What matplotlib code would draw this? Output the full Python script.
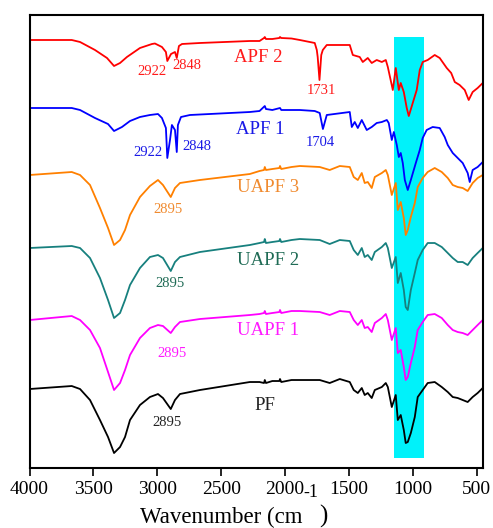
import numpy as np
import matplotlib
matplotlib.use('Agg')
import matplotlib.pyplot as plt

plt.rcParams['font.family'] = ['Liberation Serif', 'DejaVu Serif']

# FTIR spectra, transmittance (a.u.) relative to the 4000 cm-1 level
wn_apf2 = [4000, 3670, 3605, 3488, 3394, 3339, 3292, 3238, 3136, 3042, 3019, 2964, 2933, 2922, 2893,
           2862, 2848, 2831, 2807, 2667, 2276, 2200, 2165, 2159, 2150, 2100, 2045, 2040, 2030, 1950,
           1885, 1768, 1752, 1745, 1731, 1717, 1705, 1674, 1494, 1470, 1416, 1392, 1353, 1322, 1283,
           1243, 1212, 1196, 1157, 1134, 1110, 1095, 1071, 1048, 1032, 1001, 970, 946, 923, 884, 829,
           790, 735, 700, 672, 634, 594, 563, 532, 493, 453]
t_apf2 = [0, 0, -2, -10, -18, -26, -23, -17, -8, -4, -3.5, -7, -12, -21, -14,
          -12, -18, -6, -4, -3, -1, -1, 2, 3, 1, 1, 2, 3, 2, 1.5,
          0, -3, -10, -17, -40, -15, -10, -5, -5, -15, -17, -22, -18, -23, -20,
          -22, -20, -27, -50, -28, -50, -43, -52, -68, -76, -63, -50, -30, -22, -20, -15,
          -18, -28, -33, -42, -45, -50, -60, -52, -48, -43]

wn_apf1 = [4000, 3670, 3605, 3488, 3386, 3339, 3277, 3214, 3136, 3058, 2995, 2964, 2933, 2922, 2901,
           2886, 2862, 2848, 2839, 2815, 2745, 2276, 2200, 2159, 2150, 2100, 2040, 2030, 1950, 1885,
           1768, 1729, 1704, 1674, 1494, 1478, 1455, 1431, 1400, 1361, 1322, 1283, 1243, 1204, 1189,
           1165, 1149, 1126, 1110, 1095, 1079, 1063, 1040, 1016, 977, 946, 923, 892, 845, 790, 751,
           727, 688, 649, 610, 571, 555, 532, 493, 461, 453]
t_apf1 = [0, 0, -2, -10, -16, -23, -19, -13, -9, -7, -6, -10, -20, -50, -32,
          -17, -22, -44, -17, -9, -7, -4, -3, 2, -1, -2, 0, -2, -2, -2,
          -3, -5, -21, -7, -4, -19, -14, -20, -12, -22, -19, -15, -14, -12, -15,
          -32, -24, -37, -49, -45, -55, -72, -82, -72, -55, -42, -30, -22, -19, -20, -29,
          -37, -45, -50, -55, -65, -74, -62, -59, -55, -54]

# the urea-modified resins and PF share one sampling grid
wn_pf = [4000, 3670, 3605, 3527, 3449, 3386, 3339, 3292, 3253, 3214, 3136, 3058, 2995, 2956, 2895,
         2862, 2823, 2667, 2276, 2200, 2165, 2159, 2150, 2100, 2045, 2040, 2030, 1950, 1885, 1729,
         1651, 1572, 1494, 1463, 1431, 1400, 1377, 1353, 1322, 1298, 1243, 1212, 1196, 1165, 1134,
         1118, 1095, 1071, 1056, 1040, 1016, 985, 962, 923, 884, 829, 774, 727, 688, 649, 610,
         571, 532, 493, 453]
t_uapf3 = [0, 3, 0, -10, -33, -53, -70, -65, -55, -40, -22, -11, -5, -10, -22,
           -13, -8, -5, 1, 4, 5, 8, 5, 6, 7, 9, 6, 8, 9, 8,
           5, 9, 8, -2, -5, 2, -8, -7, -13, -2, 2, 5, 0, -20, -8,
           -35, -27, -43, -60, -55, -42, -28, -12, -3, 3, 7, 3, -3, -10, -12, -13,
           -16, -8, -3, 0]
t_uapf2 = [0, 2, 0, -10, -30, -52, -70, -65, -52, -37, -20, -9, -7, -10, -23,
           -14, -9, -4, 3, 5, 6, 9, 5, 6, 7, 9, 6, 8, 9, 8,
           4, 8, 7, -2, -7, 0, -9, -7, -12, -4, 1, 5, 0, -20, -9,
           -35, -25, -42, -59, -62, -42, -25, -12, -2, 5, 5, 1, -5, -10, -14, -14,
           -17, -10, -5, 0]
t_uapf1 = [0, 4, 0, -10, -28, -52, -70, -63, -50, -35, -18, -8, -5, -6, -13,
           -7, -2, 1, 5, 6, 7, 9, 6, 7, 8, 10, 7, 9, 9, 8,
           5, 9, 8, 0, -5, 0, -8, -7, -12, -3, 2, 6, 0, -20, -8,
           -33, -30, -47, -60, -57, -43, -27, -10, -2, 5, 6, 2, -5, -10, -12, -13,
           -15, -10, -5, 0]
t_pf = [0, 3, 0, -11, -31, -48, -64, -58, -48, -31, -16, -8, -5, -9, -20,
        -11, -5, -1, 7, 7, 6, 9, 6, 8, 8, 10, 7, 9, 9, 9,
        6, 10, 7, -1, -4, 1, -6, -4, -9, -1, 2, 6, 2, -18, -6,
        -31, -26, -41, -54, -53, -44, -28, -8, -1, 6, 7, 2, -3, -8, -9, -11,
        -13, -8, -4, 1]

names = ['APF 2', 'APF 1', 'UAPF 3', 'UAPF 2', 'UAPF 1', 'PF']
wns = [wn_apf2, wn_apf1, wn_pf, wn_pf, wn_pf, wn_pf]
spectra = [t_apf2, t_apf1, t_uapf3, t_uapf2, t_uapf1, t_pf]
offsets = [428, 360, 293, 220, 148, 79]
line_colors = ['#FF0000', '#0000FF', '#FF8000', '#17807E', '#FF00FF', '#000000']
text_colors = ['#FF1A1A', '#1A1AE6', '#F08A2E', '#1F6B55', '#FF1AFF', '#222222']

# peak annotations: (series index, text, wavenumber, y)
peak_labels = [(0, '2922', 3041, 396), (0, '2848', 2767, 402), (0, '1731', 1719, 377),
               (1, '2922', 3073, 316), (1, '2848', 2689, 322), (1, '1704', 1727, 326),
               (2, '2895', 2916, 259), (3, '2895', 2901, 185), (4, '2895', 2885, 115),
               (5, '2895', 2924, 46)]
name_pos = [(2212, 410), (2196, 339), (2133, 281), (2133, 208), (2133, 138), (2157, 63)]

band = (1145, 910)

fig = plt.figure(figsize=(4.93, 5.28), dpi=100)
ax = fig.add_axes([0.06, 0.1136, 0.92, 0.858])

ax.fill_between(band, 10, 431, color='#00F2FA', lw=0, zorder=1)

for wn, t, off, c in zip(wns, spectra, offsets, line_colors):
    ax.plot(wn, np.array(t) + off, color=c, lw=1.3, zorder=2)

for i, txt, x, y in peak_labels:
    ax.text(x, y, txt, color=text_colors[i], fontsize=10.5, ha='center', va='center')

for name, (x, y), c in zip(names, name_pos, text_colors):
    ax.text(x, y, name, color=c, fontsize=13.5, ha='center', va='center')

ax.set_xlim(4000, 450)
ax.set_ylim(0, 453)
ax.set_yticks([])
ax.set_xticks([4000, 3500, 3000, 2500, 2000, 1500, 1000, 500])
ax.tick_params(axis='x', direction='out', length=6, width=1.2, labelsize=14, pad=3)
for sp in ax.spines.values():
    sp.set_linewidth(1.5)

# axis title built from pieces so the exponent sits high like a typeset unit
W, H = fig.get_size_inches() * fig.dpi
fig.canvas.draw()
r = fig.canvas.get_renderer()
t1 = fig.text(140 / W, 1 - 523 / H, 'Wavenumber (cm', fontsize=16.5, va='baseline')
x1 = t1.get_window_extent(r).x1
t2 = fig.text((x1 + 1) / W, 1 - 497 / H, '-1', fontsize=13, va='baseline')
x2 = t2.get_window_extent(r).x1
fig.text((x2 + 1) / W, 1 - 523 / H, ')', fontsize=18, va='baseline')

fig.savefig('out.png', dpi=100)
